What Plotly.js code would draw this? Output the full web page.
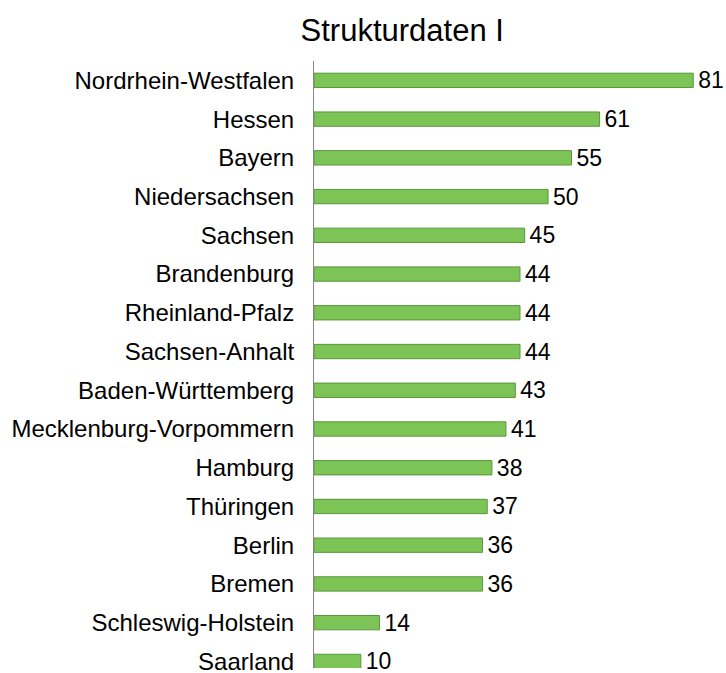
<!DOCTYPE html>
<html><head><meta charset="utf-8">
<script src="https://cdn.plot.ly/plotly-3.0.1.min.js"></script>
<style>body{margin:0;background:#fff}</style>
</head><body>
<div id="chart" style="width:726px;height:673px"></div>
<script>
const categories = ["Nordrhein-Westfalen","Hessen","Bayern","Niedersachsen","Sachsen","Brandenburg","Rheinland-Pfalz","Sachsen-Anhalt","Baden-Württemberg","Mecklenburg-Vorpommern","Hamburg","Thüringen","Berlin","Bremen","Schleswig-Holstein","Saarland"];
const values = [81,61,55,50,45,44,44,44,43,41,38,37,36,36,14,10];

const trace = {
  type: 'bar', orientation: 'h',
  y: categories, x: values,
  text: values.map(v => '\u200A' + v), textposition: 'outside',
  constraintext: 'none',
  textfont: {family: 'Liberation Sans, Arial, sans-serif', size: 23, color: '#000'},
  cliponaxis: false,
  marker: {color: '#7cc456', line: {color: '#5b963c', width: 1}},
  hoverinfo: 'none'
};
const layout = {
  width: 726, height: 673,
  margin: {l: 314, r: 0, t: 61, b: 5},
  paper_bgcolor: '#fff', plot_bgcolor: '#fff',
  bargap: 0.63,
  showlegend: false,
  title: {text: 'Strukturdaten I', font: {family: 'Liberation Sans, Arial, sans-serif', size: 31, color: '#000'},
          xref: 'container', x: 0.554, xanchor: 'center', yref: 'container', y: 0.955, yanchor: 'middle'},
  xaxis: {range: [0, 88], visible: false, fixedrange: true},
  yaxis: {type: 'category', range: [15.17, -0.5], showline: true, linecolor: '#888', linewidth: 1,
          showgrid: false, zeroline: false, ticks: '', ticklabelstandoff: 14,
          tickfont: {family: 'Liberation Sans, Arial, sans-serif', size: 24, color: '#000'}}
};
Plotly.newPlot('chart', [trace], layout, {displayModeBar: false, staticPlot: true});
</script>
</body></html>
